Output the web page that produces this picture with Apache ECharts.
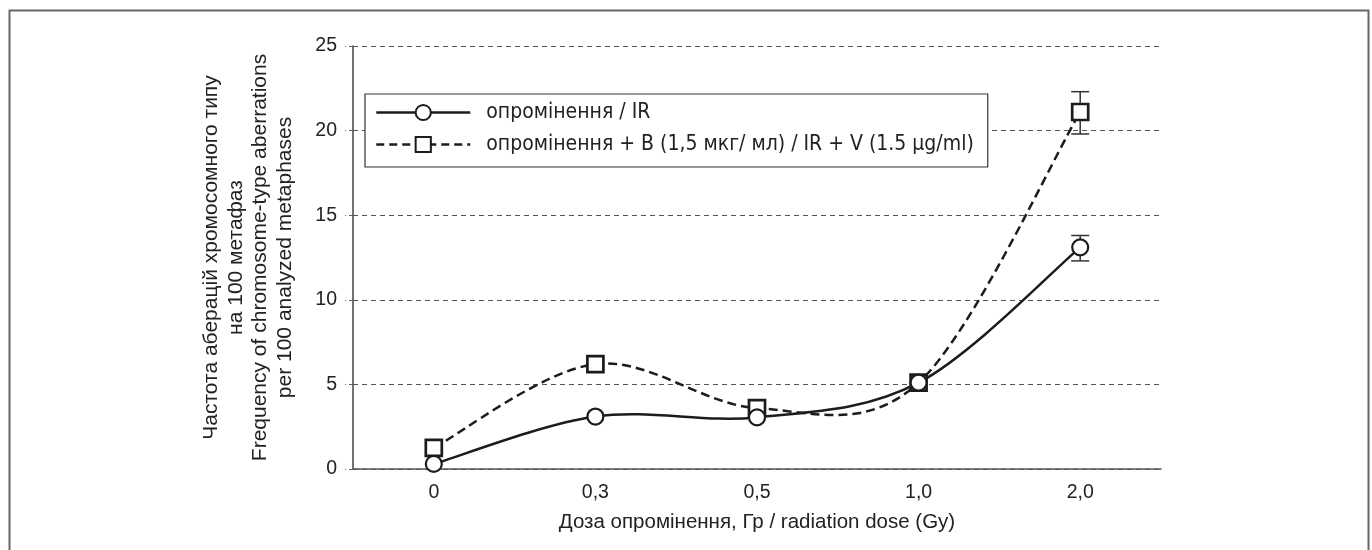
<!DOCTYPE html>
<html>
<head>
<meta charset="utf-8">
<script src="https://cdn.jsdelivr.net/npm/echarts@6/dist/echarts.min.js"></script>
<style>
html,body{margin:0;padding:0;background:#fff;}
#chart{width:1372px;height:550px;}
</style>
</head>
<body>
<div id="chart"></div>
<script>
// ---- data ----
const categories = ['0', '0,3', '0,5', '1,0', '2,0'];
const seriesNames = ['опромінення / IR', 'опромінення + В (1,5 мкг/ мл) / IR + V (1.5 µg/ml)'];
const irValues = [0.3, 3.1, 3.05, 5.1, 13.1];
const irvValues = [1.25, 6.2, 3.6, 5.1, 21.1];
const irErrLow = [0, 0, 0, 0, 0.8];
const irErrHigh = [0, 0, 0, 0, 0.7];
const irvErrLow = [0, 0, 0, 0, 1.3];
const irvErrHigh = [0, 0, 0, 0, 1.2];
const yTicks = [0, 5, 10, 15, 20, 25];
const xAxisTitle = 'Доза опромінення, Гр / radiation dose (Gy)';
const yAxisTitle = 'Частота аберацій хромосомного типу\nна 100 метафаз\nFrequency of chromosome-type aberrations\nper 100 analyzed metaphases';

function errData(vals, lo, hi) {
  return vals.map((v, i) => [i, v - lo[i], v + hi[i]]);
}

function errRender(params, api) {
  const lo = api.value(1), hi = api.value(2);
  if (hi - lo <= 0) return null;
  const pLo = api.coord([api.value(0), lo]);
  const pHi = api.coord([api.value(0), hi]);
  const hw = 9;
  const st = {stroke: '#333', lineWidth: 1.5};
  return {
    type: 'group',
    children: [
      {type: 'line', shape: {x1: pLo[0], y1: pLo[1], x2: pHi[0], y2: pHi[1]}, style: st},
      {type: 'line', shape: {x1: pLo[0] - hw, y1: pLo[1], x2: pLo[0] + hw, y2: pLo[1]}, style: st},
      {type: 'line', shape: {x1: pHi[0] - hw, y1: pHi[1], x2: pHi[0] + hw, y2: pHi[1]}, style: st}
    ]
  };
}

// smooth (Catmull-Rom style) curve through the series points, positioned with api.coord
function curveRender(dash) {
  return function (params, api) {
    if (params.dataIndexInside !== 0) return null;
    const n = params.dataInsideLength;
    const pts = [];
    for (let i = 0; i < n; i++) pts.push(api.coord([api.value(0, i), api.value(1, i)]));
    let d = 'M' + pts[0][0] + ' ' + pts[0][1];
    for (let i = 0; i < n - 1; i++) {
      const p0 = pts[Math.max(i - 1, 0)], p1 = pts[i], p2 = pts[i + 1], p3 = pts[Math.min(i + 2, n - 1)];
      const c1x = p1[0] + (p2[0] - p0[0]) / 6, c1y = p1[1] + (p2[1] - p0[1]) / 6;
      const c2x = p2[0] - (p3[0] - p1[0]) / 6, c2y = p2[1] - (p3[1] - p1[1]) / 6;
      d += ' C' + c1x + ' ' + c1y + ' ' + c2x + ' ' + c2y + ' ' + p2[0] + ' ' + p2[1];
    }
    return {
      type: 'path',
      shape: {pathData: d},
      style: {fill: 'none', stroke: '#1c1c1c', lineWidth: 2.5, lineDash: dash}
    };
  };
}

const chart = echarts.init(document.getElementById('chart'), null, {renderer: 'canvas'});
const axisFont = 'Liberation Sans, Arial, sans-serif';
chart.setOption({
  animation: false,
  backgroundColor: '#fff',
  graphic: [{
    type: 'rect', left: 7, top: 8, z: 100, silent: true,
    shape: {width: 1359, height: 600},
    style: {fill: 'none', stroke: '#666', lineWidth: 2}
  }],
  grid: {left: 353, right: 211, top: 46, bottom: 81, containLabel: false},
  legend: {
    show: true,
    orient: 'vertical',
    left: 365, top: 94,
    padding: [8, 14, 12, 10],
    itemGap: 11,
    itemWidth: 94,
    itemHeight: 19,
    borderColor: '#333',
    borderWidth: 1.2,
    backgroundColor: '#fff',
    data: [
      {name: seriesNames[0], lineStyle: {opacity: 1, width: 2.5, color: '#1c1c1c', type: 'solid'}},
      {name: seriesNames[1], lineStyle: {opacity: 1, width: 2.5, color: '#1c1c1c', type: [8, 5]}}
    ],
    textStyle: {fontFamily: 'Liberation Sans Narrow, DejaVu Sans Condensed, sans-serif', fontSize: 21, color: '#222', padding: [0, 0, 0, 11]}
  },
  xAxis: {
    type: 'category',
    data: categories,
    boundaryGap: true,
    name: xAxisTitle,
    nameLocation: 'middle',
    nameGap: 43,
    nameTextStyle: {fontFamily: axisFont, fontSize: 20.5, color: '#222'},
    axisLine: {show: true, lineStyle: {color: '#555', width: 1.5}},
    axisTick: {show: false},
    axisLabel: {fontFamily: axisFont, fontSize: 19.5, color: '#222', margin: 14},
    splitLine: {show: false}
  },
  yAxis: {
    type: 'value',
    min: yTicks[0], max: yTicks[yTicks.length - 1], interval: 5,
    name: yAxisTitle,
    nameLocation: 'middle',
    nameGap: 56,
    nameRotate: 90,
    nameTextStyle: {fontFamily: axisFont, fontSize: 21, color: '#222', lineHeight: 24.5, align: 'center'},
    axisLine: {show: true, lineStyle: {color: '#444', width: 1.5}},
    axisTick: {show: true, length: 8, lineStyle: {color: '#666', type: [4, 3]}},
    axisLabel: {fontFamily: axisFont, fontSize: 19.5, color: '#222', margin: 16},
    splitLine: {show: true, lineStyle: {color: '#555', width: 1, type: [5, 4]}}
  },
  series: [
    {
      type: 'custom', name: 'irErr', renderItem: errRender, z: 1,
      data: errData(irValues, irErrLow, irErrHigh), encode: {x: 0, y: [1, 2]}, silent: true
    },
    {
      type: 'custom', name: 'irvErr', renderItem: errRender, z: 1,
      data: errData(irvValues, irvErrLow, irvErrHigh), encode: {x: 0, y: [1, 2]}, silent: true
    },
    {
      type: 'custom', name: 'irCurve', renderItem: curveRender(null), z: 2, silent: true,
      data: irValues.map((v, i) => [i, v]), encode: {x: 0, y: 1}
    },
    {
      type: 'custom', name: 'irvCurve', renderItem: curveRender([9, 5]), z: 2, silent: true,
      data: irvValues.map((v, i) => [i, v]), encode: {x: 0, y: 1}
    },
    {
      name: seriesNames[0], type: 'line', data: irValues, z: 4,
      symbol: 'circle', symbolSize: 16,
      lineStyle: {color: '#1c1c1c', width: 2.5, opacity: 0},
      itemStyle: {color: '#fff', borderColor: '#1c1c1c', borderWidth: 2.2}
    },
    {
      name: seriesNames[1], type: 'line', data: irvValues, z: 3,
      symbol: 'rect', symbolSize: 16,
      lineStyle: {color: '#1c1c1c', width: 2.5, type: [9, 5], opacity: 0},
      itemStyle: {color: '#fff', borderColor: '#1c1c1c', borderWidth: 2.7}
    }
  ]
});
</script>
</body>
</html>
